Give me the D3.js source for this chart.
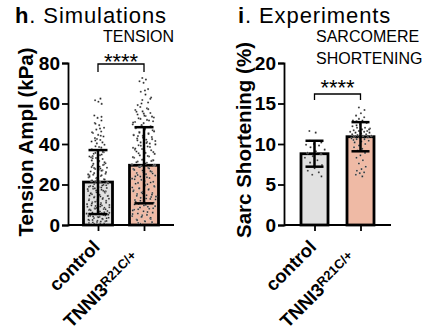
<!DOCTYPE html>
<html>
<head>
<meta charset="utf-8">
<script src="https://cdn.jsdelivr.net/npm/d3@7"></script>
<style>
  body { margin: 0; background: #fff; }
  text { font-family: "Liberation Sans", Arial, sans-serif; }
</style>
</head>
<body>
<svg id="chart" width="432" height="333"></svg>
<script>
// groups shown in both panels
const groups = ["control", "TNNI3"];
const barColors = ["#e1e1e1", "#efbaa5"];

// h. simulations - tension amplitude (kPa)
const simMean = [21.2, 29.5];
const simSd = [15.8, 18.8];
const simTicks = [0, 20, 40, 60, 80];
const simControl = [
  0.4, 0.9, 1.2, 1.8, 2.1, 2.3, 2.9, 3.4, 3.6, 4.0, 4.5, 4.7, 5.3, 5.6, 5.8, 6.2, 6.9,
  7.1, 7.4, 7.9, 8.2, 8.8, 9.1, 9.7, 0.7, 1.5, 2.6, 3.1, 4.2, 5.1, 6.5, 7.6, 8.5, 9.4,
  10.3, 10.8, 11.2, 11.9, 12.5, 12.7, 13.3, 13.9, 14.4, 14.8, 15.5, 15.9, 16.2, 16.8,
  17.4, 17.9, 18.3, 18.7, 19.2, 19.8, 11.5, 13.0, 14.1, 15.2, 16.6, 17.1, 18.9, 19.5,
  20.2, 20.9, 21.4, 21.8, 22.6, 23.1, 23.5, 24.2, 24.8, 25.3, 25.9, 26.4, 27.0, 27.7,
  28.3, 28.8, 29.4, 29.9, 22.1, 24.5, 26.8, 28.1,
  30.5, 31.2, 31.9, 32.6, 33.1, 33.8, 34.5, 35.2, 35.9, 36.7, 37.4, 38.2, 38.9, 39.6,
  31.6, 34.0, 36.1,
  40.3, 41.2, 42.0, 42.9, 43.7, 44.5, 45.4, 46.2, 47.1, 48.0, 49.3, 50.4, 51.6, 52.9,
  54.1, 44.1, 41.7,
  59.8, 60.9, 61.6, 62.4,
  0.3, 1.0, 1.7, 2.5, 3.3, 3.9, 4.4, 5.0, 5.4, 6.0, 6.7, 7.3, 7.8, 8.4, 9.0, 9.6, 0.6,
  2.0, 3.8, 5.5, 6.3, 8.0, 9.9,
  10.1, 10.6, 11.0, 11.7, 12.2, 12.9, 13.6, 14.3, 14.9, 15.6, 16.4, 17.0, 17.7, 18.5,
  19.0, 19.6, 12.0, 14.6, 16.9, 18.1,
  20.5, 21.1, 21.9, 22.4, 23.3, 23.8, 24.6, 25.6, 26.1, 27.3, 28.6, 29.6, 21.6, 25.0,
  27.9,
  30.2, 31.0, 32.3, 33.4, 34.8, 35.6, 37.0, 38.5, 33.0,
  40.8, 42.5, 45.8, 47.6, 50.0, 53.4
];
const simTnni = [
  0.6, 1.4, 2.0, 2.7, 3.3, 3.9, 4.4, 5.0, 5.7, 6.1, 6.8, 7.5, 8.0, 8.6, 9.3, 9.9, 1.0,
  3.0, 4.8, 7.2, 9.0,
  10.4, 11.0, 11.7, 12.3, 12.9, 13.4, 14.0, 14.7, 15.3, 15.8, 16.4, 17.1, 17.7, 18.2,
  18.9, 19.5, 11.4, 13.8, 16.0, 18.5,
  20.1, 20.8, 21.3, 22.0, 22.6, 23.2, 23.9, 24.4, 25.1, 25.7, 26.3, 26.9, 27.6, 28.2,
  28.7, 29.4, 21.7, 24.0, 26.6, 29.0,
  30.0, 30.7, 31.3, 31.9, 32.5, 33.2, 33.8, 34.4, 35.1, 35.6, 36.3, 36.9, 37.5, 38.1,
  38.8, 39.4, 32.0, 34.8, 37.2,
  40.2, 40.8, 41.5, 42.1, 42.7, 43.4, 44.0, 44.6, 45.3, 45.9, 46.5, 47.2, 47.8, 48.4,
  49.1, 49.7, 41.0, 43.9, 46.8,
  50.3, 50.9, 51.6, 52.4, 53.1, 53.8, 54.6, 55.3, 56.1, 56.8, 57.6, 58.3, 51.2, 54.0,
  59.2, 60.5, 61.7, 63.0, 64.4, 65.8, 67.1, 70.2, 71.0, 71.8, 72.6,
  0.3, 1.7, 2.4, 3.6, 4.1, 5.4, 6.4, 7.8, 8.3, 9.6,
  10.1, 10.7, 12.0, 12.6, 13.1, 14.4, 15.0, 15.6, 16.7, 17.4, 18.0, 19.2, 19.8,
  20.4, 21.0, 22.3, 22.9, 23.6, 24.7, 25.4, 26.0, 27.2, 27.9, 28.5, 29.7,
  30.4, 31.0, 31.6, 32.2, 33.5, 34.1, 35.4, 36.0, 36.6, 37.8, 38.5, 39.1, 39.8,
  40.5, 41.8, 42.4, 43.1, 44.3, 45.0, 45.6, 46.2, 47.5, 48.1, 48.8, 49.4,
  50.6, 51.9, 52.7, 53.5, 55.0, 55.9, 57.2,
  60.0, 62.3, 66.4
];

// i. experiments - sarcomere shortening (%)
const expMean = [8.8, 10.9];
const expSd = [1.6, 1.8];
const expTicks = [0, 5, 10, 15, 20];
const expControl = [
  11.6, 11.4, 10.4, 10.2, 10.0, 9.9, 9.8, 9.6, 9.3, 9.1, 8.9, 8.7, 8.5, 8.3, 8.0, 7.7,
  7.4, 7.0, 6.7, 6.5, 6.2, 6.0
];
const expTnni = [
  14.5, 14.2, 13.8, 13.5, 13.3, 13.1, 12.9, 12.9, 12.8, 12.6, 12.4, 12.2, 12.0, 12.0,
  11.9, 11.8, 11.7, 11.6, 11.6, 11.5, 11.5, 11.4, 11.4, 11.3, 11.2, 11.2, 11.1, 11.0,
  11.0, 10.9, 10.8, 10.8, 10.7, 10.6, 10.6, 10.4, 10.3, 10.2, 10.0, 9.8, 9.6, 9.4, 9.2,
  8.9, 8.6, 8.3, 8.0, 7.6, 7.2, 6.9, 6.7, 6.5, 6.4, 6.2, 6.0, 12.3, 11.8, 11.3, 10.5
];

const svg = d3.select("#chart");

function drawPanel(cfg) {
  const x = d3.scalePoint().domain(groups).range([cfg.left, cfg.right]).padding(cfg.pad);
  const y = d3.scaleLinear().domain(cfg.domain).range([cfg.bottom, cfg.top]);
  const g = svg.append("g");

  // title
  const title = g.append("text")
    .attr("x", cfg.titleX).attr("y", 23)
    .style("font-size", "22px")
    .style("letter-spacing", "0.9px");
  title.append("tspan").style("font-weight", "bold").text(cfg.letter);
  title.append("tspan").text(". " + cfg.title);

  cfg.subtitle.forEach((s, i) => {
    g.append("text")
      .attr("x", cfg.subX).attr("y", 42 + i * 22)
      .style("font-size", "16px")
      .text(s);
  });

  // bars
  g.selectAll(".bar")
    .data(groups)
    .enter()
    .append("rect")
    .attr("x", d => x(d) - cfg.barW / 2)
    .attr("y", (d, i) => y(cfg.mean[i]))
    .attr("width", cfg.barW)
    .attr("height", (d, i) => y(0) - y(cfg.mean[i]))
    .attr("fill", (d, i) => barColors[i])
    .attr("stroke", "#000")
    .attr("stroke-width", 2.8);

  // scatter points, spread wider where points are dense
  const span = cfg.domain[1] - cfg.domain[0];
  cfg.points.forEach((vals, gi) => {
    const counts = vals.map(v => vals.filter(w => Math.abs(w - v) < span * 0.05).length);
    const maxC = d3.max(counts);
    g.selectAll(".pt" + gi)
      .data(vals)
      .enter()
      .append("circle")
      .attr("cx", (v, i) => {
        const half = (cfg.barW / 2 - 2) * Math.sqrt(Math.max(0.12, counts[i] / maxC));
        const u = ((i * 0.618034 + gi * 0.3) % 1) * 2 - 1;
        return x(groups[gi]) + u * half;
      })
      .attr("cy", v => y(v))
      .attr("r", cfg.dotR)
      .attr("fill", "#222")
      .attr("stroke", "#fff")
      .attr("stroke-width", 0.3);
  });

  // error bars (mean +/- SD)
  groups.forEach((d, i) => {
    const cx = x(d);
    const lo = cfg.mean[i] - cfg.sd[i], hi = cfg.mean[i] + cfg.sd[i];
    g.append("line")
      .attr("x1", cx).attr("x2", cx)
      .attr("y1", y(lo)).attr("y2", y(hi))
      .attr("stroke", "#000").attr("stroke-width", 2.5);
    [lo, hi].forEach(v => {
      g.append("line")
        .attr("x1", cx - cfg.capW / 2).attr("x2", cx + cfg.capW / 2)
        .attr("y1", y(v)).attr("y2", y(v))
        .attr("stroke", "#000").attr("stroke-width", 2.5);
    });
  });

  // y axis
  const yAxis = g.append("g")
    .attr("transform", "translate(" + cfg.left + ",0)")
    .call(d3.axisLeft(y).tickValues(cfg.ticks).tickSize(6).tickPadding(2));
  yAxis.selectAll("path, line").attr("stroke", "#000").attr("stroke-width", 1.8);
  yAxis.selectAll("text")
    .style("font-size", "19px").style("font-weight", "bold")
    .style("font-family", "Liberation Sans, Arial, sans-serif")
    .attr("fill", "#000");

  // x axis
  const xAxis = g.append("g")
    .attr("transform", "translate(0," + cfg.bottom + ")")
    .call(d3.axisBottom(x).tickSize(6).tickFormat(""));
  xAxis.select("path").attr("d", "M" + cfg.left + ",0H" + cfg.right)
    .attr("stroke", "#000").attr("stroke-width", 1.8);
  xAxis.selectAll("line").attr("stroke", "#000").attr("stroke-width", 1.8);

  // rotated group labels, right end placed near the tick
  g.append("text")
    .attr("transform", "translate(" + (x(groups[0]) + 3) + "," + (cfg.bottom + 23) + ") rotate(-45)")
    .attr("text-anchor", "end")
    .style("font-size", "18.5px").style("font-weight", "bold")
    .text("control");
  const g1 = g.append("g")
    .attr("transform", "translate(" + (x(groups[1]) - 7) + "," + (cfg.bottom + 31) + ") rotate(-45)");
  const sup = g1.append("text")
    .attr("text-anchor", "end")
    .style("font-size", "13px").style("font-weight", "bold")
    .text("R21C/+");
  g1.append("text")
    .attr("x", -sup.node().getComputedTextLength())
    .attr("y", 5)
    .attr("text-anchor", "end")
    .style("font-size", "18.5px").style("font-weight", "bold")
    .text("TNNI3");

  // y label
  g.append("text")
    .attr("transform", "translate(" + cfg.yLabX + "," + cfg.yLabY + ") rotate(-90)")
    .attr("text-anchor", "middle")
    .style("font-size", "20.5px").style("font-weight", "bold")
    .text(cfg.yLabel);

  // significance bracket
  const bx0 = x(groups[0]), bx1 = x(groups[1]);
  g.append("path")
    .attr("d", "M" + bx0 + "," + (cfg.brY + cfg.legH) + "V" + cfg.brY + "H" + bx1 + "V" + (cfg.brY + cfg.legH))
    .attr("fill", "none").attr("stroke", "#000").attr("stroke-width", 1.3);
  g.append("text")
    .attr("x", (bx0 + bx1) / 2).attr("y", cfg.brY + cfg.starDy)
    .attr("text-anchor", "middle")
    .style("font-size", "22px")
    .text("****");
}

drawPanel({
  letter: "h", title: "Simulations", titleX: 15,
  subtitle: ["TENSION"], subX: 103,
  left: 68, right: 174, pad: 0.652, top: 63, bottom: 225,
  domain: [0, 80], ticks: simTicks,
  mean: simMean, sd: simSd, points: [simControl, simTnni],
  barW: 29, capW: 19, dotR: 1.05,
  yLabel: "Tension Ampl (kPa)", yLabX: 33, yLabY: 142,
  brY: 64, legH: 8, starDy: 5
});

drawPanel({
  letter: "i", title: "Experiments", titleX: 238,
  subtitle: ["SARCOMERE", "SHORTENING"], subX: 316,
  left: 284, right: 391, pad: 0.663, top: 63, bottom: 225,
  domain: [0, 20], ticks: expTicks,
  mean: expMean, sd: expSd, points: [expControl, expTnni],
  barW: 27, capW: 18, dotR: 1.05,
  yLabel: "Sarc Shortening (%)", yLabX: 251, yLabY: 140,
  brY: 94, legH: 6, starDy: 1
});
</script>
</body>
</html>
